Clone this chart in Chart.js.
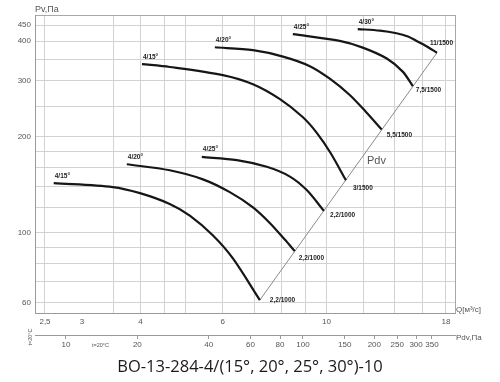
<!DOCTYPE html>
<html>
<head>
<meta charset="utf-8">
<script src="https://cdn.jsdelivr.net/npm/chart.js@4"></script>
<style>
  html, body { margin: 0; padding: 0; background: #fff; }
  #wrap { width: 500px; height: 382px; }
</style>
</head>
<body>
<div id="wrap"><canvas id="chart" width="500" height="382"></canvas></div>
<script>
// axis ticks
const qTicks = [2.5, 3, 3.5, 4, 4.5, 5, 6, 7, 8, 9, 10, 12, 14, 16, 18];
const qLabels = [2.5, 3, 4, 6, 10, 18];
const pTicks = [60, 70, 80, 90, 100, 120, 140, 160, 180, 200, 250, 300, 350, 400, 450];
const pLabels = [60, 100, 200, 300, 400, 450];
const pdvTicks = [10, 20, 40, 60, 80, 100, 150, 200, 250, 300, 350];

// 1500 rpm curves
const qUp15 = [4.03, 4.62, 6.00, 6.96, 7.95, 8.89, 9.53, 10.2, 11.0];
const pUp15 = [339, 332, 313, 293, 263, 231, 206, 178, 146];
const qUp20 = [5.77, 6.96, 8.07, 9.21, 10.16, 11.21, 12.13, 13.12];
const pUp20 = [383, 375, 358, 334, 305, 271, 240, 211];
const qUp25 = [8.47, 10.67, 11.95, 13.45, 14.55, 15.29];
const pUp25 = [421, 401, 382, 353, 321, 289];
const qUp30 = [11.66, 13.0, 14.11, 14.93, 15.57, 16.35, 17.22];
const pUp30 = [437, 432, 424, 414, 401, 386, 368];

// 1000 rpm curves
const qLow15 = [2.61, 3.49, 3.99, 4.62, 5.10, 5.71, 6.30, 7.20];
const pLow15 = [143, 139, 133, 123, 113, 98, 83, 61.3];
const qLow20 = [3.74, 4.62, 5.44, 6.21, 6.96, 7.57, 8.14, 8.55];
const pLow20 = [164, 157, 147, 134, 120, 107, 95, 87.4];
const qLow25 = [5.41, 6.43, 7.45, 8.35, 9.07, 9.87];
const pLow25 = [173, 169, 161, 150, 136, 117];

// dynamic pressure line
const qPdv = [7.20, 17.22];
const pPdv = [61.3, 368];

const titleText = 'ВО-13-284-4/(15°, 20°, 25°, 30°)-10';
const angleNames = ['4/15°', '4/20°', '4/25°', '4/30°', '4/15°', '4/20°', '4/25°'];
const motorNames = ['3/1500', '5,5/1500', '7,5/1500', '11/1500', '2,2/1000', '2,2/1000', '2,2/1000'];

const curveQ = [qUp15, qUp20, qUp25, qUp30, qLow15, qLow20, qLow25];
const curveP = [pUp15, pUp20, pUp25, pUp30, pLow15, pLow20, pLow25];
// end label offsets (px)
const endOffsets = [[7, 8], [5, 6], [3, 4], [-7, -10], [10, 0], [4, 7], [6, 4]];

const pts = (qs, ps) => qs.map((q, i) => ({ x: q, y: ps[i] }));

const datasets = curveQ.map((qs, i) => ({
    data: pts(qs, curveP[i]),
    borderColor: '#161616',
    borderWidth: 2.2,
    pointRadius: 0,
    tension: 0.3
}));
datasets.push({
    data: pts(qPdv, pPdv),
    borderColor: '#8a8a8a',
    borderWidth: 1,
    pointRadius: 0
});

const fmt = v => String(v).replace('.', ',');
const tickFont = { family: 'Liberation Sans', size: 8 };

const textPlugin = {
    id: 'extraText',
    afterDatasetsDraw(chart) {
        const { ctx, chartArea: a, scales: { x, y } } = chart;
        ctx.save();
        ctx.fillStyle = '#1e1e1e';
        ctx.font = 'bold 6.5px "Liberation Sans"';
        curveQ.forEach((qs, i) => {
            const ps = curveP[i];
            const n = qs.length - 1;
            ctx.textAlign = 'left';
            ctx.textBaseline = 'bottom';
            ctx.fillText(angleNames[i], x.getPixelForValue(qs[0]) + 1, y.getPixelForValue(ps[0]) - 4);
            ctx.textBaseline = 'middle';
            const [dx, dy] = endOffsets[i];
            ctx.fillText(motorNames[i], x.getPixelForValue(qs[n]) + dx, y.getPixelForValue(ps[n]) + dy);
        });

        ctx.fillStyle = '#555';
        ctx.font = '11px "Liberation Sans"';
        ctx.textBaseline = 'middle';
        ctx.fillText('Pdv', x.getPixelForValue(12.2), y.getPixelForValue(168));

        ctx.font = '9px "Liberation Sans"';
        ctx.textBaseline = 'bottom';
        ctx.fillText('Pv,Па', a.left, a.top - 1);

        ctx.font = '8px "Liberation Sans"';
        ctx.textBaseline = 'middle';
        ctx.fillText('Q[м³/с]', a.right + 1, a.bottom - 3);
        ctx.fillText('Pdv,Па', a.right + 1, a.bottom + 25);

        ctx.font = '5.5px "Liberation Sans"';
        ctx.fillText('t=20°C', 92, a.bottom + 32);

        // title, centred on the whole canvas
        ctx.fillStyle = '#1a1a1a';
        ctx.font = '16.5px "Open Sans"';
        ctx.textAlign = 'center';
        ctx.fillText(titleText, chart.width / 2, 367);

        ctx.translate(30, a.bottom + 24);
        ctx.rotate(-Math.PI / 2);
        ctx.fillStyle = '#555';
        ctx.font = '5.5px "Liberation Sans"';
        ctx.fillText('t=20°C', 0, 0);
        ctx.restore();
    }
};

new Chart(document.getElementById('chart'), {
    type: 'line',
    data: { datasets },
    options: {
        responsive: false,
        animation: false,
        layout: { padding: { top: 15, right: 45, left: 0, bottom: 30 } },
        plugins: {
            legend: { display: false },
            tooltip: { enabled: false }
        },
        scales: {
            x: {
                type: 'logarithmic',
                min: 2.38,
                max: 18.82,
                afterBuildTicks: s => { s.ticks = [...qTicks, 18.82].map(v => ({ value: v })); },
                afterFit: s => { s.height = 22; },
                ticks: {
                    autoSkip: false, maxRotation: 0, padding: 4,
                    color: '#555', font: tickFont,
                    callback: v => qLabels.includes(v) ? fmt(v) : ''
                },
                grid: {
                    drawTicks: false,
                    color: c => c.tick && c.tick.value === 3 ? 'rgba(0,0,0,0)' : (c.tick && c.tick.value > 18.5 ? '#a8a8a8' : '#d2d2d2')
                },
                border: { color: '#9a9a9a' }
            },
            y: {
                type: 'logarithmic',
                min: 55.8,
                max: 483.9,
                afterBuildTicks: s => { s.ticks = [...pTicks, 483.9].map(v => ({ value: v })); },
                afterFit: s => { s.width = 35; },
                ticks: {
                    autoSkip: false, padding: 4,
                    color: '#555', font: tickFont,
                    callback: v => pLabels.includes(v) ? String(v) : ''
                },
                grid: {
                    drawTicks: false,
                    color: c => c.tick && c.tick.value > 480 ? '#a8a8a8' : '#d2d2d2'
                },
                border: { color: '#9a9a9a' }
            },
            pdv: {
                type: 'logarithmic',
                position: 'bottom',
                weight: 1,
                min: 7.4,
                max: 438,
                afterBuildTicks: s => { s.ticks = pdvTicks.map(v => ({ value: v })); },
                afterFit: s => { s.height = 17; },
                ticks: {
                    autoSkip: false, maxRotation: 0, padding: 1,
                    color: '#555', font: tickFont,
                    callback: v => String(v)
                },
                grid: { drawOnChartArea: false, drawTicks: true, tickLength: 4, color: '#9a9a9a' },
                border: { color: '#9a9a9a' }
            }
        }
    },
    plugins: [textPlugin]
});
</script>
</body>
</html>
